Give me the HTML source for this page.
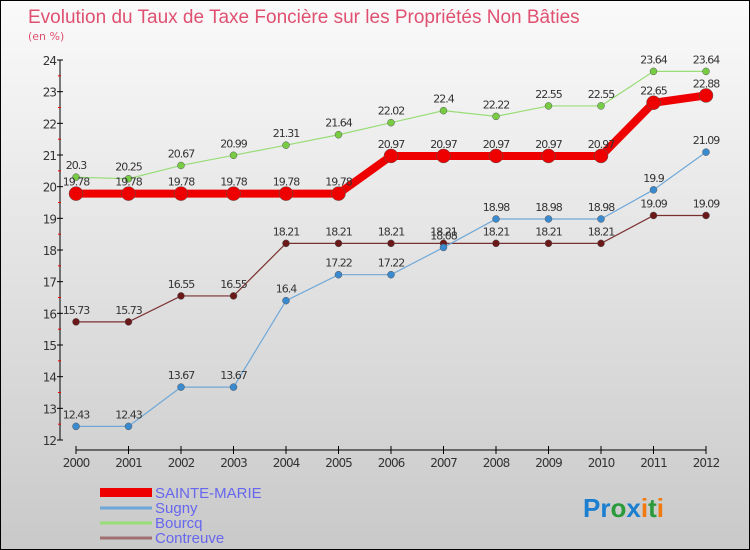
<!DOCTYPE html>
<html><head><meta charset="utf-8"><style>
body{margin:0}
#c{width:750px;height:550px;position:relative;background:linear-gradient(#fafafa,#c9c9c9);border:1px solid #000;box-sizing:border-box;font-family:"DejaVu Sans","Liberation Sans",sans-serif;overflow:hidden}
</style></head><body>
<div id="c">
<svg width="750" height="550" style="position:absolute;left:-1px;top:-1px" id="svg">
<text x="28" y="23" font-size="19" fill="#e05070" font-family="Liberation Sans, sans-serif">Evolution du Taux de Taxe Foncière sur les Propriétés Non Bâties</text>
<text x="28" y="40" font-size="11" fill="#e05070">(en %)</text>
<g id="g"></g>
<g>
<rect x="100" y="488" width="52" height="9" fill="#e00"/>
<text x="155" y="498" font-size="15" fill="#6666ee" font-family="Liberation Sans, sans-serif">SAINTE-MARIE</text>
<line x1="100" y1="508" x2="152" y2="508" stroke="#6fa8d8" stroke-width="3"/>
<text x="155" y="513" font-size="15" fill="#6666ee" font-family="Liberation Sans, sans-serif">Sugny</text>
<line x1="100" y1="523" x2="152" y2="523" stroke="#99dd77" stroke-width="3"/>
<text x="155" y="528" font-size="15" fill="#6666ee" font-family="Liberation Sans, sans-serif">Bourcq</text>
<line x1="100" y1="538" x2="152" y2="538" stroke="#a07070" stroke-width="3"/>
<text x="155" y="543" font-size="15" fill="#6666ee" font-family="Liberation Sans, sans-serif">Contreuve</text>
</g>
<text x="583" y="517" font-size="26" font-weight="bold" font-family="Liberation Sans, sans-serif"><tspan fill="#1a7fd0">Pr</tspan><tspan fill="#2a9a3a">o</tspan><tspan fill="#1a7fd0">x</tspan><tspan fill="#f07a10">i</tspan><tspan fill="#2a9a3a">t</tspan><tspan fill="#f07a10">i</tspan></text>
</svg>
</div>
<script>
const years=[2000,2001,2002,2003,2004,2005,2006,2007,2008,2009,2010,2011,2012];
const yTicks=[12,13,14,15,16,17,18,19,20,21,22,23,24];
const sainteMarie=[19.78,19.78,19.78,19.78,19.78,19.78,20.97,20.97,20.97,20.97,20.97,22.65,22.88];
const sugny=[12.43,12.43,13.67,13.67,16.4,17.22,17.22,18.08,18.98,18.98,18.98,19.9,21.09];
const bourcq=[20.3,20.25,20.67,20.99,21.31,21.64,22.02,22.4,22.22,22.55,22.55,23.64,23.64];
const contreuve=[15.73,15.73,16.55,16.55,18.21,18.21,18.21,18.21,18.21,18.21,18.21,19.09,19.09];
const NS="http://www.w3.org/2000/svg";
const g=document.getElementById('g');
const xs=i=>76+i*52.5;
const ys=v=>440-(v-12)*31.667;
function mk(t,a,name){const e=document.createElementNS(NS,t);for(const k in a)e.setAttribute(k,a[k]);


g.appendChild(e);return e;}
mk('line',{x1:60,y1:60,x2:60,y2:440,stroke:'#000'},'y-axis');
mk('line',{x1:76,y1:450,x2:706,y2:450,stroke:'#000'},'x-axis');
yTicks.forEach(v=>{mk('line',{x1:57,y1:ys(v),x2:63,y2:ys(v),stroke:'#000'},'y-tick');
if(v<24)mk('line',{x1:58,y1:ys(v+0.5),x2:61,y2:ys(v+0.5),stroke:'#e00'},'y-minor-tick');
const t=mk('text',{x:56,y:ys(v)+5,'font-size':12,'text-anchor':'end',fill:'#333','letter-spacing':'-1'},'y-tick-label');t.textContent=v;});
years.forEach((y,i)=>{mk('line',{x1:xs(i),y1:446,x2:xs(i),y2:454,stroke:'#000'},'x-tick');
const t=mk('text',{x:xs(i),y:467,'font-size':12,'text-anchor':'middle',fill:'#333','letter-spacing':'-1'},'x-tick-label');t.textContent=y;});
function series(d,col,w,r,dot,name){
mk('polyline',{points:d.map((v,i)=>xs(i)+','+ys(v)).join(' '),fill:'none',stroke:col,'stroke-width':w},name+'-line');
d.forEach((v,i)=>{mk('circle',{cx:xs(i),cy:ys(v),r:r,fill:dot,stroke:'#555','stroke-width':0.5},name+'-point');
const t=mk('text',{x:xs(i),y:ys(v)-8,'font-size':11,'text-anchor':'middle',fill:'#333','letter-spacing':'-1'},name+'-value-label');t.textContent=v;});
}
series(contreuve,'#7a3030',1.2,3.5,'#6a1818','contreuve');
series(sugny,'#6fa8d8',1.2,3.5,'#3a8ad0','sugny');
series(bourcq,'#99dd77',1.2,3.5,'#77cc44','bourcq');
series(sainteMarie,'#e00',8,7,'#e00','sainte-marie');
</script>
</body></html>
